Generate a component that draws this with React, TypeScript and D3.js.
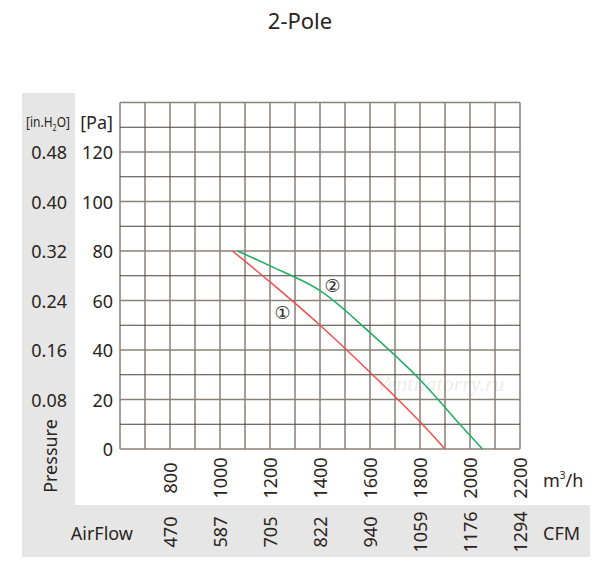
// @ts-nocheck
import { useEffect, useRef } from 'react';
import * as d3 from 'd3';

const m3hTicks = [800, 1000, 1200, 1400, 1600, 1800, 2000, 2200];
const cfmTicks = ['470', '587', '705', '822', '940', '1059', '1176', '1294'];
const paTicks = [0, 20, 40, 60, 80, 100, 120];
const inH2OTicks = ['0', '0.08', '0.16', '0.24', '0.32', '0.40', '0.48'];

const curve1 = [[1050, 80], [1200, 67.5], [1400, 50], [1600, 31], [1800, 11], [1900, 0]];
const curve2 = [[1070, 80], [1200, 74], [1400, 64], [1600, 47], [1800, 28], [1950, 11], [2050, 0]];

const App = () => {
  const svgRef = useRef();

  useEffect(() => {
    const svg = d3.select(svgRef.current);
    svg.selectAll('*').remove();
    const font = "'Noto Sans', sans-serif";
    const txt = '#2a2420';

    const x = d3.scaleLinear().domain([600, 2200]).range([120, 520]);
    const y = d3.scaleLinear().domain([0, 140]).range([449, 102.5]);

    // grey bands
    svg.append('rect').attr('x', 22).attr('y', 93).attr('width', 53).attr('height', 464).attr('fill', '#e6e6e6');
    svg.append('rect').attr('x', 22).attr('y', 505).attr('width', 568).attr('height', 52).attr('fill', '#e6e6e6');

    svg.append('text').attr('x', 300).attr('y', 29).attr('text-anchor', 'middle')
      .style('font-family', font).style('font-size', '22px').attr('fill', txt).text('2-Pole');

    // grid
    const g = svg.append('g');
    d3.range(600, 2201, 100).forEach(v => {
      g.append('line').attr('x1', x(v)).attr('x2', x(v)).attr('y1', y(140)).attr('y2', y(0))
        .attr('stroke', '#4a4038').attr('stroke-width', 1);
    });
    d3.range(0, 141, 10).forEach(v => {
      g.append('line').attr('x1', x(600)).attr('x2', x(2200)).attr('y1', y(v)).attr('y2', y(v))
        .attr('stroke', v % 20 === 0 ? '#8a8278' : '#4a4038').attr('stroke-width', v % 20 === 0 ? 1.5 : 1);
    });

    // y labels
    paTicks.forEach((v, i) => {
      svg.append('text').attr('x', 113).attr('y', y(v) + 7).attr('text-anchor', 'end')
        .style('font-family', font).style('font-size', '18px').attr('fill', txt).text(v);
      svg.append('text').attr('x', 67).attr('y', y(v) + 7).attr('text-anchor', 'end')
        .style('font-family', font).style('font-size', '18px').attr('fill', txt)
        .text(i === 0 ? '' : inH2OTicks[i]);
    });
    svg.append('text').attr('x', 113).attr('y', 129).attr('text-anchor', 'end')
      .style('font-family', font).style('font-size', '18px').attr('fill', txt).text('[Pa]');
    const ih = svg.append('text').attr('x', 48).attr('y', 127).attr('text-anchor', 'middle')
      .style('font-family', font).style('font-size', '15px').attr('fill', txt)
      .attr('transform', 'translate(48,127) scale(0.8,1) translate(-48,-127)');
    ih.append('tspan').text('[in.H');
    ih.append('tspan').attr('font-size', '9px').attr('dy', 4).text('2');
    ih.append('tspan').attr('dy', -4).text('O]');
    svg.append('text').attr('transform', 'translate(57,456) rotate(-90)').attr('text-anchor', 'middle')
      .style('font-family', font).style('font-size', '18px').attr('fill', txt).text('Pressure');

    // x labels
    m3hTicks.forEach((v, i) => {
      svg.append('text').attr('transform', `translate(${x(v) + 7},478) rotate(-90)`).attr('text-anchor', 'middle')
        .style('font-family', font).style('font-size', '18px').attr('fill', txt).text(v);
      svg.append('text').attr('transform', `translate(${x(v) + 7},532) rotate(-90)`).attr('text-anchor', 'middle')
        .style('font-family', font).style('font-size', '18px').attr('fill', txt).text(cfmTicks[i]);
    });
    const mu = svg.append('text').attr('x', 543).attr('y', 487)
      .style('font-family', font).style('font-size', '18px').attr('fill', txt);
    mu.append('tspan').text('m');
    mu.append('tspan').attr('font-size', '10px').attr('dy', -8).text('3');
    mu.append('tspan').attr('dy', 8).text('/h');
    svg.append('text').attr('x', 133).attr('y', 540).attr('text-anchor', 'end')
      .style('font-family', font).style('font-size', '18px').attr('fill', txt).text('AirFlow');
    svg.append('text').attr('x', 543).attr('y', 540)
      .style('font-family', font).style('font-size', '18px').attr('fill', txt).text('CFM');

    svg.append('text').attr('x', 440).attr('y', 391).attr('text-anchor', 'middle')
      .style('font-family', 'serif').style('font-style', 'italic').style('font-size', '22px')
      .attr('fill', '#000').attr('opacity', 0.07).text('Ventilatorry.ru');

    // curves
    const line = d3.line().x(d => x(d[0])).y(d => y(d[1])).curve(d3.curveCatmullRom);
    svg.append('path').attr('d', line(curve1)).attr('fill', 'none').attr('stroke', '#f0504a').attr('stroke-width', 1.5);
    svg.append('path').attr('d', line(curve2)).attr('fill', 'none').attr('stroke', '#1fae60').attr('stroke-width', 1.5);

    [[1250, 55, '①'], [1450, 66, '②']].forEach(([vx, vy, s]) => {
      svg.append('circle').attr('cx', x(vx)).attr('cy', y(vy)).attr('r', 9).attr('fill', 'white').attr('opacity', 0.9);
      svg.append('text').attr('x', x(vx)).attr('y', y(vy) + 6).attr('text-anchor', 'middle')
        .style('font-family', "'DejaVu Sans', sans-serif").style('font-size', '18px').attr('fill', txt).text(s);
    });
  }, []);

  return <svg ref={svgRef} width={600} height={574} style={{ position: 'absolute', left: 0, top: 0 }}></svg>;
};

export default App;
